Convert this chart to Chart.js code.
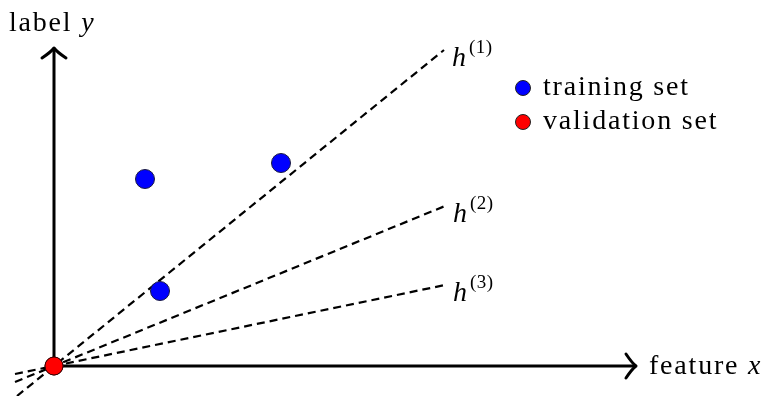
<!DOCTYPE html>
<html>
<head>
<meta charset="utf-8">
<script src="https://cdn.jsdelivr.net/npm/chart.js@4"></script>
<style>
html,body{margin:0;padding:0;background:#fff;}
#wrap{width:772px;height:396px;}
</style>
</head>
<body>
<div id="wrap"><canvas id="c" width="772" height="396"></canvas></div>
<script>
// ---- data (units: 1 unit = 100 px in the reference) ----
const trainX = [0.91, 2.27, 1.06];
const trainY = [1.87, 2.03, 0.75];
const validX = [0];
const validY = [0];
const hypNames = ['(1)', '(2)', '(3)'];
const hypStartX = [-0.37, -0.39, -0.39];
const hypStartY = [-0.30, -0.16, -0.08];
const hypEndX = [3.90, 3.91, 3.91];
const hypEndY = [3.16, 1.60, 0.81];
const xAxisEnd = 5.81;
const yAxisEnd = 3.17;
const legendLabels = ['training set', 'validation set'];
const axisTitles = ['feature', 'label'];

const BLUE = '#0000ff', RED = '#ff0000';
const SERIF = '"Liberation Serif", "Times New Roman", serif';

const datasets = [
  { label: legendLabels[1], data: validX.map((x,i)=>({x, y: validY[i]})),
    backgroundColor: RED, borderColor: '#3a0000', borderWidth: 1, pointRadius: 9, showLine: false },
  { label: legendLabels[0], data: trainX.map((x,i)=>({x, y: trainY[i]})),
    backgroundColor: BLUE, borderColor: '#1a1a40', borderWidth: 1, pointRadius: 9.5, showLine: false },
  { label: 'x-axis', data: [{x:0,y:0},{x:xAxisEnd,y:0}], showLine: true,
    borderColor: '#000', borderWidth: 3, pointRadius: 0, fill: false },
  { label: 'y-axis', data: [{x:0,y:0},{x:0,y:yAxisEnd}], showLine: true,
    borderColor: '#000', borderWidth: 3, pointRadius: 0, fill: false },
];
hypNames.forEach((n,i)=>{
  datasets.push({ label: 'h' + n, data: [{x:hypStartX[i], y:hypStartY[i]},{x:hypEndX[i], y:hypEndY[i]}],
    showLine: true, borderColor: '#000', borderWidth: 2.2, borderDash: [8,5], pointRadius: 0, fill: false });
});

const decor = {
  id: 'decor',
  afterDatasetsDraw(chart) {
    const ctx = chart.ctx, xs = chart.scales.x, ys = chart.scales.y;
    const ox = xs.getPixelForValue(0), oy = ys.getPixelForValue(0);
    // arrow heads
    ctx.save();
    ctx.strokeStyle = '#000'; ctx.lineWidth = 3; ctx.lineCap = 'round'; ctx.lineJoin = 'round';
    const tx = xs.getPixelForValue(xAxisEnd);
    ctx.beginPath();
    ctx.moveTo(tx - 9, oy - 12); ctx.quadraticCurveTo(tx - 3, oy - 3, tx + 1, oy);
    ctx.quadraticCurveTo(tx - 3, oy + 3, tx - 9, oy + 12);
    ctx.stroke();
    const ty = ys.getPixelForValue(yAxisEnd);
    ctx.beginPath();
    ctx.moveTo(ox - 12, ty + 9); ctx.quadraticCurveTo(ox - 3, ty + 3, ox, ty - 1);
    ctx.quadraticCurveTo(ox + 3, ty + 3, ox + 12, ty + 9);
    ctx.stroke();
    ctx.restore();

    // red point on top again (over axes)
    const meta0 = chart.getDatasetMeta(0);
    meta0.data.forEach(el => el.draw(ctx));

    ctx.save();
    ctx.fillStyle = '#000';
    ctx.textBaseline = 'alphabetic';
    ctx.letterSpacing = '1.8px';
    const reg = '28px ' + SERIF, ital = 'italic 28px ' + SERIF, sup = '19px ' + SERIF;

    // y-axis title
    ctx.font = reg; ctx.fillText(axisTitles[1], 9, 31);
    let w = ctx.measureText(axisTitles[1] + ' ').width;
    ctx.font = ital; ctx.fillText('y', 9 + w, 31);

    // x-axis title
    ctx.font = reg; ctx.fillText(axisTitles[0], tx + 14, 374);
    w = ctx.measureText(axisTitles[0] + ' ').width;
    ctx.font = ital; ctx.fillText('x', tx + 14 + w, 374);

    // hypothesis labels
    hypNames.forEach((n,i)=>{
      const px = xs.getPixelForValue(hypEndX[i]) + 8;
      const py = ys.getPixelForValue(hypEndY[i]);
      const base = py + 16;
      ctx.font = ital; ctx.letterSpacing = '0px';
      ctx.fillText('h', px, base);
      const hw = ctx.measureText('h').width;
      ctx.font = sup; ctx.letterSpacing = '0.5px';
      ctx.fillText(n, px + hw + 3, base - 13);
    });

    // legend
    ctx.letterSpacing = '1.8px';
    const lg = [[BLUE, legendLabels[0], 88], [RED, legendLabels[1], 122]];
    lg.forEach(([col, txt, cy])=>{
      ctx.beginPath(); ctx.arc(523, cy, 7.5, 0, Math.PI*2);
      ctx.fillStyle = col; ctx.fill();
      ctx.lineWidth = 1; ctx.strokeStyle = '#222'; ctx.stroke();
      ctx.fillStyle = '#000'; ctx.font = reg;
      ctx.fillText(txt, 543, cy + 7);
    });
    ctx.restore();
  }
};

new Chart(document.getElementById('c'), {
  type: 'scatter',
  data: { datasets },
  options: {
    responsive: false,
    animation: false,
    layout: { padding: 0, autoPadding: false },
    plugins: { legend: { display: false }, tooltip: { enabled: false } },
    scales: {
      x: { type: 'linear', min: -0.54, max: 7.18, display: false },
      y: { type: 'linear', min: -0.30, max: 3.66, display: false }
    },
    elements: { line: { tension: 0 } }
  },
  plugins: [decor]
});
</script>
</body>
</html>
